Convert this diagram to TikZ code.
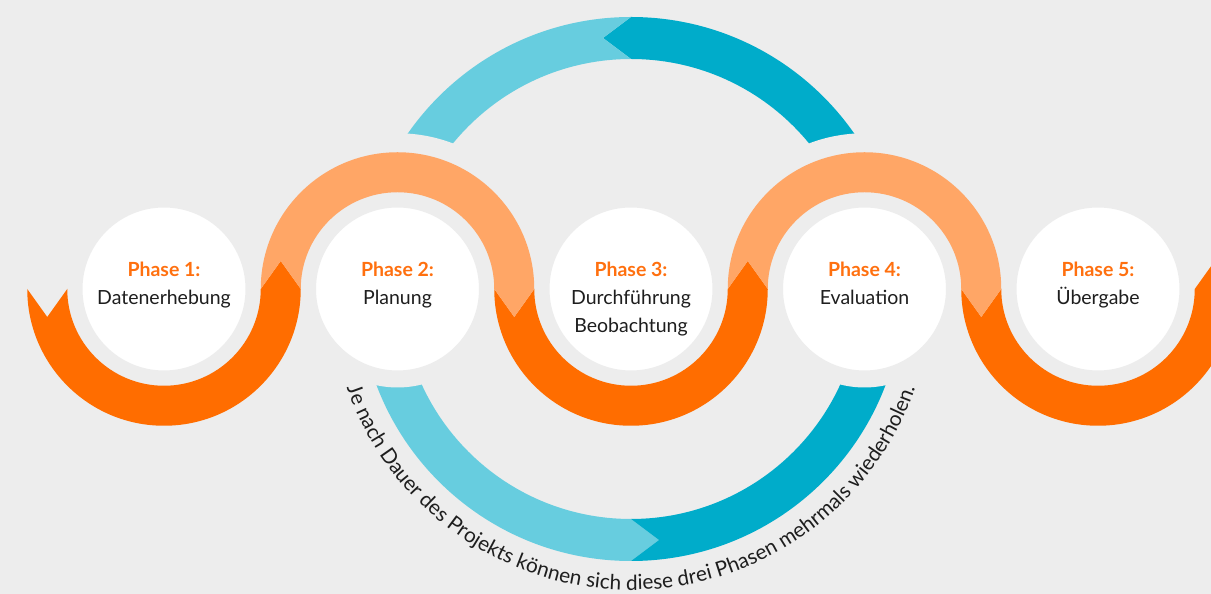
\documentclass[tikz,border=0pt]{standalone}
\usepackage{fontspec}
\setmainfont{Lato}
\usetikzlibrary{decorations.text}
\definecolor{bgGray}{HTML}{EDEDED}
\definecolor{orangeDark}{HTML}{FF6D00}
\definecolor{orangeLight}{HTML}{FFA666}
\definecolor{tealDark}{HTML}{00ACCA}
\definecolor{tealLight}{HTML}{67CDDF}
\definecolor{phaseOrange}{HTML}{FF700F}
\definecolor{textDark}{HTML}{1E1E1E}
\newcommand{\arcfont}{\fontsize{20.8}{24}\selectfont\color{textDark}}

\begin{document}
\begin{tikzpicture}[x=1pt,y=1pt,
    halo/.style={draw=bgGray,fill=bgGray,line width=38pt,line join=round},
    phase/.style={circle,fill=white,draw=bgGray,line width=17pt,minimum size=180pt,inner sep=0pt},
    phasetext/.style={anchor=north,align=center,inner sep=0pt,text=textDark,font=\fontsize{19.5}{28}\selectfont},
    lowarc/.style={insert path={++(180:136.75) -- ++(20,-28) -- ++(20,28)
        arc[start angle=180,end angle=360,radius=96.75pt] -- ++(20,28) -- ++(20,-28)
        arc[start angle=0,end angle=-180,radius=136.75pt] -- cycle}},
    higharc/.style={insert path={++(180:96.75) -- ++(-20,28) -- ++(-20,-28)
        arc[start angle=180,end angle=0,radius=136.75pt] -- ++(-20,-28) -- ++(-20,28)
        arc[start angle=0,end angle=180,radius=96.75pt] -- cycle}}]
  \clip (0,0) rectangle (1211,594);
  \fill[bgGray] (0,0) rectangle (1211,594);

  \foreach \i/\x in {1/164,2/397.5,3/631,4/864.5,5/1098}
    {\coordinate (c\i) at (\x,305);};

  \fill[tealDark] (c3) ++(0:272) arc[start angle=0,end angle=90,radius=272pt]
    -- ++(-28,-21) -- ++(28,-21) arc[start angle=90,end angle=0,radius=230pt] -- cycle;
  \fill[tealLight] (c3) ++(90:272) arc[start angle=90,end angle=180,radius=272pt]
    -- ++(42,0) arc[start angle=180,end angle=90,radius=230pt] -- ++(-28,21) -- cycle;
  \fill[tealLight] (c3) ++(180:272) arc[start angle=180,end angle=270,radius=272pt]
    -- ++(28,21) -- ++(-28,21) arc[start angle=270,end angle=180,radius=230pt] -- cycle;
  \fill[tealDark] (c3) ++(270:272) -- ++(28,21) -- ++(-28,21)
    arc[start angle=270,end angle=360,radius=230pt] -- ++(42,0)
    arc[start angle=0,end angle=-90,radius=272pt] -- cycle;

  \foreach \i in {1,3,5} {\path[halo] (c\i) [lowarc];};
  \foreach \i in {2,4} {\path[halo] (c\i) [higharc];};

  \foreach \i/\txt in {1/Datenerhebung,
                       2/Planung,
                       3/{Durchführung\\Beobachtung},
                       4/Evaluation,
                       5/Übergabe}
  {\node[phase] (p\i) at (c\i) {};
   \node[phasetext] (t\i) at ([yshift=27]c\i) {{\bfseries\color{phaseOrange}Phase \i:}\\\txt};
  };

  \foreach \i in {1,3,5} {\fill[orangeDark] (c\i) [lowarc];};
  \foreach \i in {2,4} {\fill[orangeLight] (c\i) [higharc];};

  \path[decorate,decoration={text along path,text align=center,
      text={|\arcfont|Je nach Dauer des Projekts können sich diese drei Phasen mehrmals wiederholen.}}]
    (c3) ++(188:301) arc[start angle=188,end angle=352,radius=301pt];
\end{tikzpicture}
\end{document}
